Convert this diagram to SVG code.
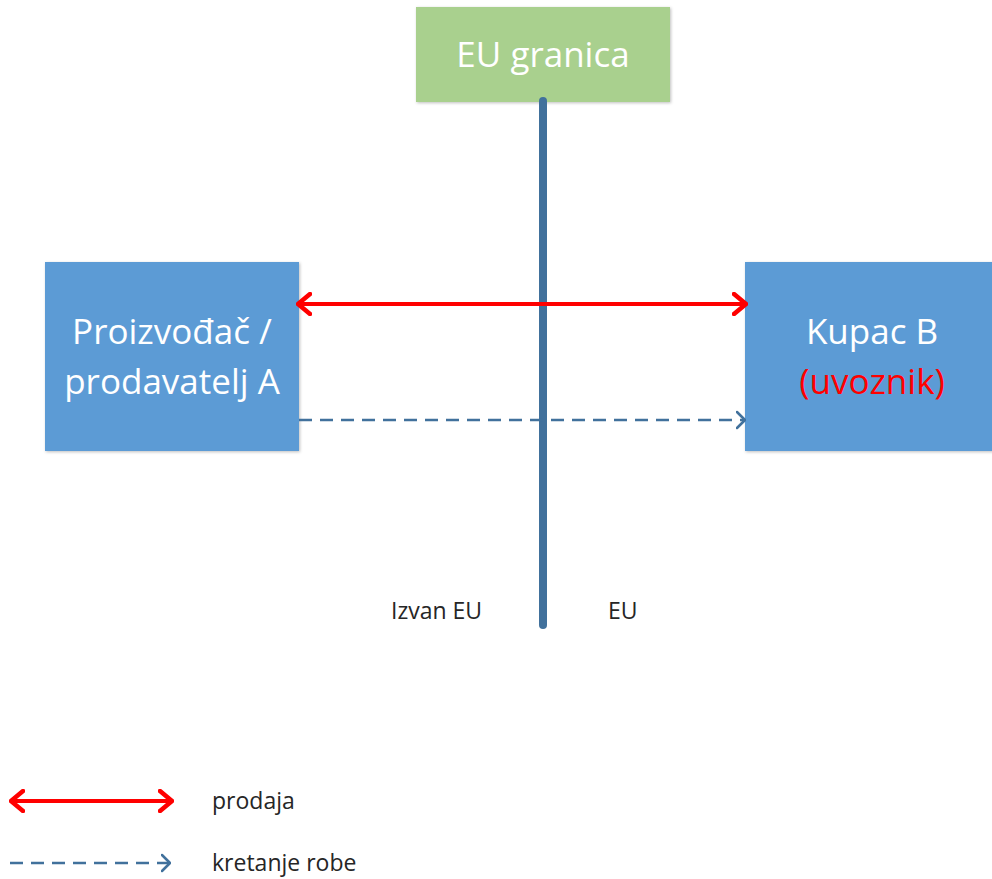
<svg xmlns="http://www.w3.org/2000/svg" width="992" height="879" viewBox="0 0 992 879">
<style>
.box{fill:#5B9BD5;}
.t{font-family:"Open Sans","Liberation Sans",sans-serif;fill:#FFFFFF;font-size:35px;text-anchor:middle;}
.s{font-family:"Open Sans","Liberation Sans",sans-serif;fill:#262626;font-size:23px;}
.red{stroke:#FF0000;stroke-width:4;fill:none;}
.dash{stroke:#41719C;stroke-width:2.5;fill:none;stroke-dasharray:13 8;}
</style>
<defs>
<filter id="sh" x="-5%" y="-5%" width="110%" height="110%">
<feDropShadow dx="1" dy="1" stdDeviation="1.5" flood-color="#000" flood-opacity="0.25"/>
</filter>
<marker id="ra" viewBox="0 0 16 24" refX="15" refY="12" markerWidth="16" markerHeight="24" markerUnits="userSpaceOnUse" orient="auto-start-reverse">
<path d="M2,2 L14,12 L2,22" fill="none" stroke="#FF0000" stroke-width="4.5" stroke-linecap="round" stroke-linejoin="round"/>
</marker>
<marker id="ba" viewBox="0 0 10 20" refX="9" refY="10" markerWidth="10" markerHeight="20" markerUnits="userSpaceOnUse" orient="auto">
<path d="M1,2 L9,10 L1,18" fill="none" stroke="#41719C" stroke-width="2.5" stroke-linecap="round" stroke-linejoin="round"/>
</marker>
</defs>
<g id="eu-granica">
<rect x="416" y="7" width="254" height="95" fill="#A9D08E" filter="url(#sh)"/>
<text class="t" x="543" y="67" font-size="36">EU granica</text>
</g>
<g id="proizvodac">
<rect class="box" x="45" y="262" width="254" height="189" filter="url(#sh)"/>
<text class="t" x="172" y="344">Proizvođač /</text>
<text class="t" x="172" y="394">prodavatelj A</text>
</g>
<g id="kupac">
<rect class="box" x="745" y="262" width="254" height="189" filter="url(#sh)"/>
<text class="t" x="872" y="344">Kupac B</text>
<text class="t" x="872" y="394" style="fill:#FF0000">(uvoznik)</text>
</g>
<g id="connectors">
<line x1="543" y1="101" x2="543" y2="625" stroke="#41719C" stroke-width="8" stroke-linecap="round"/>
<line class="red" x1="297" y1="304" x2="747" y2="304" marker-start="url(#ra)" marker-end="url(#ra)"/>
<line class="dash" x1="299" y1="420" x2="745" y2="420" marker-end="url(#ba)"/>
</g>
<g id="labels">
<text class="s" x="391" y="619">Izvan EU</text>
<text class="s" x="608" y="619">EU</text>
</g>
<g id="legend">
<line class="red" x1="10" y1="801" x2="173" y2="801" marker-start="url(#ra)" marker-end="url(#ra)"/>
<text class="s" x="212" y="809">prodaja</text>
<line class="dash" x1="10" y1="863" x2="170" y2="863" marker-end="url(#ba)"/>
<text class="s" x="212" y="871">kretanje robe</text>
</g>
</svg>
